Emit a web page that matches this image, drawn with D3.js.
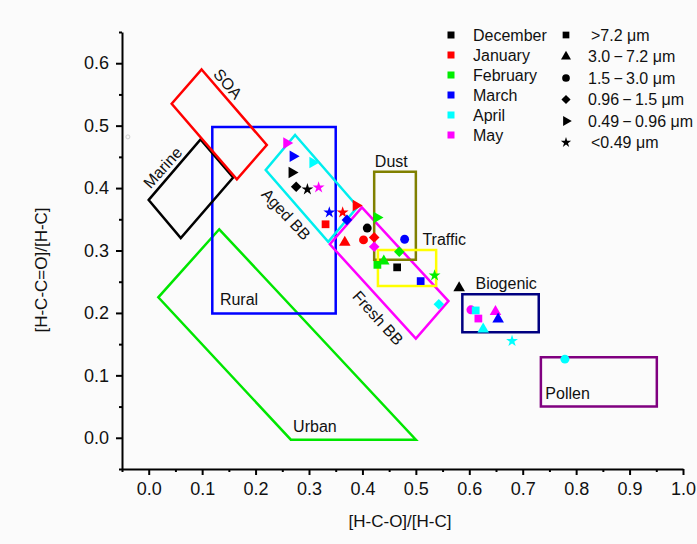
<!DOCTYPE html>
<html>
<head>
<meta charset="utf-8">
<script src="https://cdn.jsdelivr.net/npm/d3@7"></script>
<style>
  body { margin: 0; background: #fbfbfb; }
  svg { display: block; font-family: 'Liberation Sans', Arial, sans-serif; }
</style>
</head>
<body>
<svg id="chart" width="697" height="544"></svg>
<script>
var months = ['December', 'January', 'February', 'March', 'April', 'May'];
var sizeBins = ['>7.2 \u03bcm', '3.0\u2009\u2212\u20097.2 \u03bcm', '1.5\u2009\u2212\u20093.0 \u03bcm',
                '0.96\u2009\u2212\u20091.5 \u03bcm', '0.49\u2009\u2212\u20090.96 \u03bcm', '<0.49 \u03bcm'];
var xTicks = [0, 0.1, 0.2, 0.3, 0.4, 0.5, 0.6, 0.7, 0.8, 0.9, 1.0];
var yTicks = [0, 0.1, 0.2, 0.3, 0.4, 0.5, 0.6];

// [month, size bin, [H-C-O]/[H-C], [H-C-C=O]/[H-C]]
var points = [
    ['May', 4, 0.258, 0.472],
    ['March', 4, 0.270, 0.451],
    ['April', 4, 0.307, 0.441],
    ['December', 4, 0.268, 0.425],
    ['December', 3, 0.276, 0.402],
    ['December', 5, 0.297, 0.398],
    ['May', 5, 0.318, 0.401],
    ['March', 5, 0.338, 0.361],
    ['January', 5, 0.363, 0.361],
    ['January', 4, 0.388, 0.372],
    ['January', 0, 0.331, 0.342],
    ['March', 3, 0.371, 0.349],
    ['January', 1, 0.367, 0.313],
    ['December', 2, 0.409, 0.336],
    ['January', 2, 0.402, 0.317],
    ['January', 3, 0.422, 0.321],
    ['May', 3, 0.422, 0.306],
    ['February', 4, 0.427, 0.353],
    ['March', 2, 0.479, 0.318],
    ['February', 3, 0.469, 0.298],
    ['February', 0, 0.428, 0.277],
    ['February', 1, 0.440, 0.283],
    ['December', 0, 0.465, 0.273],
    ['March', 0, 0.509, 0.251],
    ['February', 5, 0.535, 0.260],
    ['April', 3, 0.543, 0.214],
    ['December', 1, 0.581, 0.240],
    ['May', 2, 0.603, 0.205],
    ['April', 0, 0.612, 0.204],
    ['May', 0, 0.617, 0.191],
    ['May', 1, 0.649, 0.202],
    ['March', 1, 0.654, 0.190],
    ['April', 1, 0.626, 0.174],
    ['April', 5, 0.680, 0.155],
    ['April', 2, 0.779, 0.126]
];

// source regions, corners in data units
var urban = [[0.132, 0.334], [0.018, 0.225], [0.266, -0.003], [0.500, -0.003]];
var rural = [[0.119, 0.498], [0.350, 0.498], [0.350, 0.199], [0.119, 0.199]];
var marine = [[0.0, 0.381], [0.097, 0.478], [0.158, 0.417], [0.060, 0.320]];
var soa = [[0.099, 0.590], [0.221, 0.469], [0.165, 0.414], [0.043, 0.535]];
var agedBB = [[0.274, 0.485], [0.391, 0.370], [0.336, 0.314], [0.219, 0.429]];
var freshBB = [[0.399, 0.369], [0.561, 0.219], [0.500, 0.159], [0.339, 0.310]];
var dust = [[0.422, 0.426], [0.500, 0.426], [0.500, 0.285], [0.422, 0.285]];
var traffic = [[0.429, 0.301], [0.538, 0.301], [0.538, 0.243], [0.429, 0.243]];
var biogenic = [[0.587, 0.230], [0.730, 0.230], [0.730, 0.169], [0.587, 0.169]];
var pollen = [[0.734, 0.129], [0.951, 0.129], [0.951, 0.050], [0.734, 0.050]];

var monthColor = {
    December: '#000000', January: '#ff0000', February: '#00ee00',
    March: '#0000ff', April: '#00ffff', May: '#ff00ff'
};

var regionList = [
    { name: 'Urban', pts: urban, color: '#00e600', at: [0.311, 0.018], rot: 0 },
    { name: 'Rural', pts: rural, color: '#0000ff', at: [0.169, 0.221], rot: 0 },
    { name: 'Marine', pts: marine, color: '#000000', at: [0.026, 0.433], rot: -48 },
    { name: 'SOA', pts: soa, color: '#ff0000', at: [0.148, 0.567], rot: 49 },
    { name: 'Aged BB', pts: agedBB, color: '#00eeee', at: [0.257, 0.358], rot: 47 },
    { name: 'Fresh BB', pts: freshBB, color: '#ff00ff', at: [0.429, 0.192], rot: 48 },
    { name: 'Dust', pts: dust, color: '#808000', at: [0.454, 0.443], rot: 0 },
    { name: 'Traffic', pts: traffic, color: '#ffff00', at: [0.553, 0.318], rot: 0 },
    { name: 'Biogenic', pts: biogenic, color: '#000080', at: [0.669, 0.247], rot: 0 },
    { name: 'Pollen', pts: pollen, color: '#800080', at: [0.784, 0.071], rot: 0 }
];

// marker per size bin
var shapes = [
    { type: d3.symbolSquare, rot: 0, size: 60 },
    { type: d3.symbolTriangle, rot: 0, size: 58 },
    { type: d3.symbolCircle, rot: 0, size: 62 },
    { type: d3.symbolSquare, rot: 45, size: 56 },
    { type: d3.symbolTriangle, rot: 90, size: 58 },
    { type: d3.symbolStar, rot: 0, size: 44 }
];

var svg = d3.select('#chart');

var x = d3.scaleLinear().domain([-0.05, 1.0]).range([122, 683]);
var y = d3.scaleLinear().domain([-0.05, 0.65]).range([469, 32]);

svg.append('rect').attr('width', 697).attr('height', 544).attr('fill', '#fbfbfb');

// tiny stray circle in the original figure
svg.append('circle')
    .attr('cx', x(-0.039)).attr('cy', y(0.482)).attr('r', 2)
    .attr('fill', 'none').attr('stroke', '#d0d0d0');

var line = d3.line()
    .x(function(d) { return x(d[0]); })
    .y(function(d) { return y(d[1]); })
    .curve(d3.curveLinearClosed);

svg.append('g')
    .selectAll('path')
    .data(regionList)
    .enter().append('path')
    .attr('d', function(d) { return line(d.pts); })
    .attr('fill', 'none')
    .attr('stroke', function(d) { return d.color; })
    .attr('stroke-width', 2.5)
    .attr('stroke-linejoin', 'miter');

svg.append('g')
    .selectAll('text')
    .data(regionList)
    .enter().append('text')
    .attr('transform', function(d) {
        return 'translate(' + x(d.at[0]) + ',' + y(d.at[1]) + ') rotate(' + d.rot + ')';
    })
    .attr('text-anchor', 'middle')
    .attr('dy', '0.35em')
    .attr('font-size', 16)
    .attr('fill', '#111')
    .text(function(d) { return d.name; });

function symbolPath(bin, scale) {
    var s = shapes[bin];
    return d3.symbol().type(s.type).size(s.size * (scale || 1))();
}

svg.append('g')
    .selectAll('path')
    .data(points)
    .enter().append('path')
    .attr('d', function(d) { return symbolPath(d[1]); })
    .attr('transform', function(d) {
        return 'translate(' + x(d[2]) + ',' + y(d[3]) + ') rotate(' + shapes[d[1]].rot + ')';
    })
    .attr('fill', function(d) { return monthColor[d[0]]; });

// axes
var xMinor = d3.range(-0.05, 1.0, 0.1);
var yMinor = d3.range(-0.05, 0.66, 0.1);

var xAxis = svg.append('g').attr('transform', 'translate(0,' + y(-0.05) + ')');
xAxis.call(d3.axisBottom(x).tickValues(xTicks).tickFormat(d3.format('.1f'))
    .tickSize(6).tickSizeOuter(0).tickPadding(7));
xAxis.append('g').call(d3.axisBottom(x).tickValues(xMinor).tickFormat('').tickSize(3).tickSizeOuter(0))
    .select('.domain').remove();

var yAxis = svg.append('g').attr('transform', 'translate(' + x(-0.05) + ',0)');
yAxis.call(d3.axisLeft(y).tickValues(yTicks).tickFormat(d3.format('.1f'))
    .tickSize(6).tickSizeOuter(0).tickPadding(7));
yAxis.append('g').call(d3.axisLeft(y).tickValues(yMinor).tickFormat('').tickSize(3).tickSizeOuter(0))
    .select('.domain').remove();

svg.selectAll('.domain').attr('stroke', '#000').attr('stroke-width', 2);
svg.selectAll('.tick line').attr('stroke', '#000').attr('stroke-width', 2);
svg.selectAll('.tick text').attr('font-size', 18).attr('fill', '#111')
    .attr('font-family', "'Liberation Sans', Arial, sans-serif");

svg.append('text')
    .attr('x', 400).attr('y', 527)
    .attr('text-anchor', 'middle')
    .attr('font-size', 17)
    .attr('fill', '#111')
    .text('[H-C-O]/[H-C]');

svg.append('text')
    .attr('transform', 'translate(47,270) rotate(-90)')
    .attr('text-anchor', 'middle')
    .attr('font-size', 17)
    .attr('fill', '#111')
    .text('[H-C-C=O]/[H-C]');

// legend: months
var monthLegend = svg.append('g').selectAll('g')
    .data(months)
    .enter().append('g')
    .attr('transform', function(d, i) { return 'translate(451,' + (35 + i * 20) + ')'; });

monthLegend.append('rect')
    .attr('x', -3.5).attr('y', -3.5).attr('width', 7).attr('height', 7)
    .attr('fill', function(d) { return monthColor[d]; });

monthLegend.append('text')
    .attr('x', 22).attr('dy', '0.35em')
    .attr('font-size', 16).attr('fill', '#111')
    .text(function(d) { return d; });

// legend: size bins
var sizeLegend = svg.append('g').selectAll('g')
    .data(sizeBins)
    .enter().append('g')
    .attr('transform', function(d, i) { return 'translate(566,' + (35 + i * 21.5) + ')'; });

sizeLegend.append('path')
    .attr('d', function(d, i) { return symbolPath(i, 0.75); })
    .attr('transform', function(d, i) { return 'rotate(' + shapes[i].rot + ')'; })
    .attr('fill', '#000');

sizeLegend.append('text')
    .attr('x', function(d, i) { return i === 0 || i === 5 ? 25 : 22; })
    .attr('dy', '0.35em')
    .attr('font-size', 16).attr('fill', '#111')
    .text(function(d) { return d; });
</script>
</body>
</html>
